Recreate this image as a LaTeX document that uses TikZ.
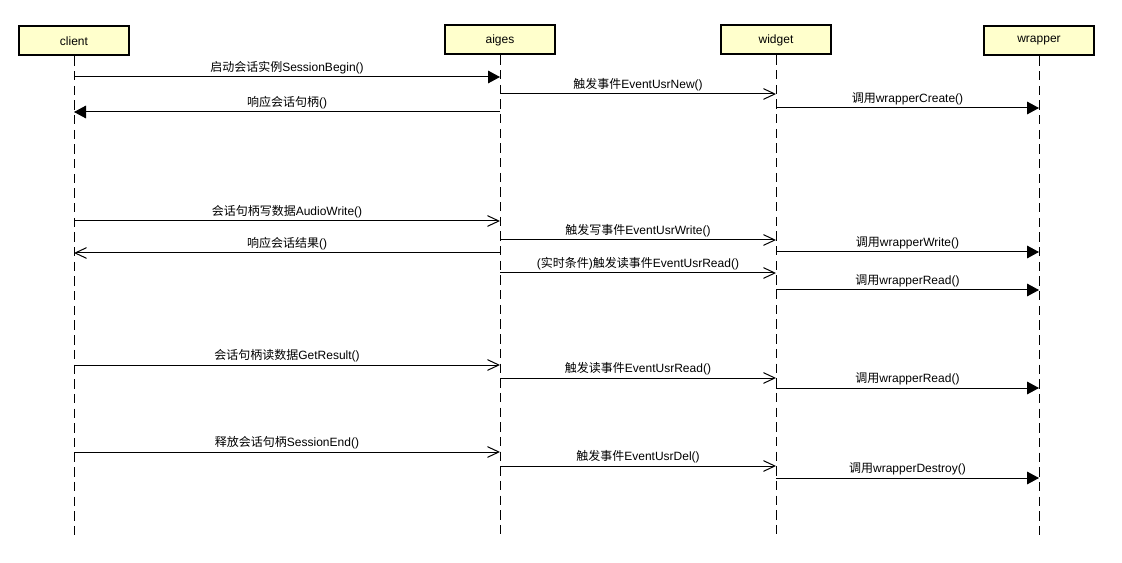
\documentclass[tikz,border=0pt]{standalone}
\usepackage{fontspec}
\setmainfont{Liberation Sans}
\newfontfamily\cjk{Noto Sans CJK SC}
\usetikzlibrary{arrows.meta}
\definecolor{yellowbox}{HTML}{FFFFCC}
\begin{document}
\begin{tikzpicture}[x=0.75pt,y=-0.75pt,
  actor/.style={draw=black, line width=1.5pt, fill=yellowbox, minimum width=82.5pt, minimum height=21.75pt, inner sep=0pt, font=\fontsize{9pt}{10pt}\selectfont},
  lifeline/.style={draw=black, line width=0.6pt, dash pattern=on 7pt off 4pt},
  msgfill/.style={draw=black, line width=0.75pt, -{Triangle[length=9pt,width=9.5pt]}},
  msgopen/.style={draw=black, line width=0.75pt, -{Straight Barb[length=8.5pt,width=8pt,line width=0.75pt]}},
  lbl/.style={above, inner sep=0pt, yshift=1.8pt, font=\fontsize{9pt}{10pt}\selectfont}
]
\useasboundingbox (0,0) rectangle (1122,563);

\node[actor] (client) at (74,41) {client};
\node[actor] (aiges) at (500,40) {aiges};
\node[actor] (widget) at (776,40) {widget};
\node[actor] (wrapper) at (1039,41) {wrapper};

\coordinate (clientend) at (74,537);
\coordinate (aigesend) at (500,537);
\coordinate (widgetend) at (776,537);
\coordinate (wrapperend) at (1039,537);

\draw[lifeline] (client.south) -- (clientend);
\draw[lifeline] (aiges.south) -- (aigesend);
\draw[lifeline] (widget.south) -- (widgetend);
\draw[lifeline] (wrapper.south) -- (wrapperend);

% session begin
\draw[msgfill] (client |- 0,77) -- node[lbl] {{\cjk 启动会话实例}SessionBegin()} (aiges |- 0,77);
\draw[msgopen] (aiges |- 0,94) -- node[lbl] {{\cjk 触发事件}EventUsrNew()} (widget |- 0,94);
\draw[msgfill] (widget |- 0,108) -- node[lbl] {{\cjk 调用}wrapperCreate()} (wrapper |- 0,108);
\draw[msgfill] (aiges |- 0,112) -- node[lbl] {{\cjk 响应会话句柄}()} (client |- 0,112);

% audio write
\draw[msgopen] (client |- 0,221) -- node[lbl] {{\cjk 会话句柄写数据}AudioWrite()} (aiges |- 0,221);
\draw[msgopen] (aiges |- 0,240) -- node[lbl] {{\cjk 触发写事件}EventUsrWrite()} (widget |- 0,240);
\draw[msgfill] (widget |- 0,252) -- node[lbl] {{\cjk 调用}wrapperWrite()} (wrapper |- 0,252);
\draw[msgopen] (aiges |- 0,253) -- node[lbl] {{\cjk 响应会话结果}()} (client |- 0,253);
\draw[msgopen] (aiges |- 0,273) -- node[lbl] {({\cjk 实时条件}){\cjk 触发读事件}EventUsrRead()} (widget |- 0,273);
\draw[msgfill] (widget |- 0,290) -- node[lbl] {{\cjk 调用}wrapperRead()} (wrapper |- 0,290);

% get result
\draw[msgopen] (client |- 0,365) -- node[lbl] {{\cjk 会话句柄读数据}GetResult()} (aiges |- 0,365);
\draw[msgopen] (aiges |- 0,378) -- node[lbl] {{\cjk 触发读事件}EventUsrRead()} (widget |- 0,378);
\draw[msgfill] (widget |- 0,388) -- node[lbl] {{\cjk 调用}wrapperRead()} (wrapper |- 0,388);

% session end
\draw[msgopen] (client |- 0,452) -- node[lbl] {{\cjk 释放会话句柄}SessionEnd()} (aiges |- 0,452);
\draw[msgopen] (aiges |- 0,466) -- node[lbl] {{\cjk 触发事件}EventUsrDel()} (widget |- 0,466);
\draw[msgfill] (widget |- 0,478) -- node[lbl] {{\cjk 调用}wrapperDestroy()} (wrapper |- 0,478);
\end{tikzpicture}
\end{document}
